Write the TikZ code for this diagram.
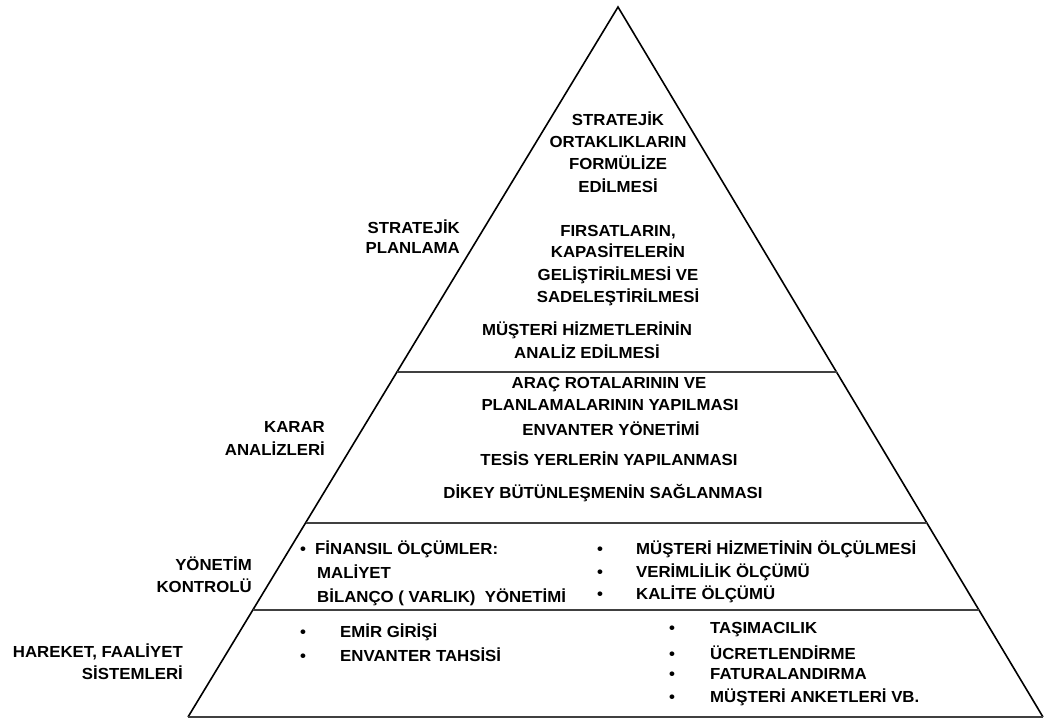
\documentclass[tikz,border=0pt]{standalone}
\usepackage{fontspec}
\setmainfont{Liberation Sans}[FakeStretch=1.05]

\tikzset{
  every node/.style={inner sep=0pt, font=\bfseries\fontsize{16}{19}\selectfont},
  edge line/.style={line width=1.6pt},
  level line/.style={line width=2.2pt, black!75},
  midtext/.style={anchor=base},
  sidelabel/.style={anchor=base east},
  listtext/.style={anchor=base west},
  dotmark/.style={anchor=base},
}

\begin{document}
\begin{tikzpicture}[x=1pt, y=-1pt]
  \useasboundingbox (0,0) rectangle (1044,721);

  % Corners of the pyramid.
  \coordinate (top) at (618,7);
  \coordinate (bl) at (188,717);
  \coordinate (br) at (1043,717);
  \draw[edge line] (bl) -- (top) -- (br);
  \draw[level line] (bl) -- (br);

  % Borders between the four levels.
  \coordinate (al) at (397,372);   \coordinate (ar) at (836.5,372);
  \coordinate (bl2) at (305.5,523); \coordinate (br2) at (926.9,523);
  \coordinate (cl) at (252.8,610); \coordinate (cr) at (979,610);
  \draw[level line] (al) -- (ar);
  \draw[level line] (bl2) -- (br2);
  \draw[level line] (cl) -- (cr);

  % Level names on the left.
  \node[sidelabel] (sp1) at (460,233) {STRATEJİK};
  \node[sidelabel] (sp2) at (460,253) {PLANLAMA};
  \node[sidelabel] (ka1) at (325,432) {KARAR};
  \node[sidelabel] (ka2) at (325,455) {ANALİZLERİ};
  \node[sidelabel] (yk1) at (252,570) {YÖNETİM};
  \node[sidelabel] (yk2) at (252,592) {KONTROLÜ};
  \node[sidelabel] (hf1) at (183,657) {HAREKET, FAALİYET};
  \node[sidelabel] (hf2) at (183,679) {SİSTEMLERİ};

  % Strategic planning.
  \foreach \y/\s [count=\i] in {125/STRATEJİK, 147/ORTAKLIKLARIN,
      169/FORMÜLİZE, 192/EDİLMESİ}
    \node[midtext] (so\i) at (618,\y) {\s};
  \foreach \y/\s [count=\i] in {236/{FIRSATLARIN,}, 257/KAPASİTELERİN,
      280/GELİŞTİRİLMESİ VE, 302/SADELEŞTİRİLMESİ}
    \node[midtext] (fk\i) at (618,\y) {\s};
  \node[midtext] (mh1) at (587,335) {MÜŞTERİ HİZMETLERİNİN};
  \node[midtext] (mh2) at (587,358) {ANALİZ EDİLMESİ};

  % Decision analyses.
  \node[midtext] (ar1) at (609,388) {ARAÇ ROTALARININ VE};
  \node[midtext] (ar2) at (610,410) {PLANLAMALARININ YAPILMASI};
  \node[midtext] (ev) at (611,435) {ENVANTER YÖNETİMİ};
  \node[midtext] (ty) at (609,465) {TESİS YERLERİN YAPILANMASI};
  \node[midtext] (db) at (603,498) {DİKEY BÜTÜNLEŞMENİN SAĞLANMASI};

  % Management control.
  \node[dotmark] (fd) at (303,554) {\textbullet};
  \node[listtext] (fo1) at (315,554) {FİNANSIL ÖLÇÜMLER:};
  \node[listtext] (fo2) at (317,578) {MALİYET};
  \node[listtext] (fo3) at (317,602) {BİLANÇO ( VARLIK)~~YÖNETİMİ};
  \foreach \y/\s [count=\i] in {554/MÜŞTERİ HİZMETİNİN ÖLÇÜLMESİ,
      577/VERİMLİLİK ÖLÇÜMÜ, 599/KALİTE ÖLÇÜMÜ} {
    \node[dotmark] (md\i) at (600,\y) {\textbullet};
    \node[listtext] (mo\i) at (636,\y) {\s};
  }

  % Operational systems.
  \foreach \y/\s [count=\i] in {637/EMİR GİRİŞİ, 661/ENVANTER TAHSİSİ} {
    \node[dotmark] (ld\i) at (303,\y) {\textbullet};
    \node[listtext] (lo\i) at (340,\y) {\s};
  }
  \foreach \y/\s [count=\i] in {633/TAŞIMACILIK, 659/ÜCRETLENDİRME,
      679/FATURALANDIRMA, 702/MÜŞTERİ ANKETLERİ VB.} {
    \node[dotmark] (rd\i) at (672,\y) {\textbullet};
    \node[listtext] (ro\i) at (710,\y) {\s};
  }
\end{tikzpicture}
\end{document}
